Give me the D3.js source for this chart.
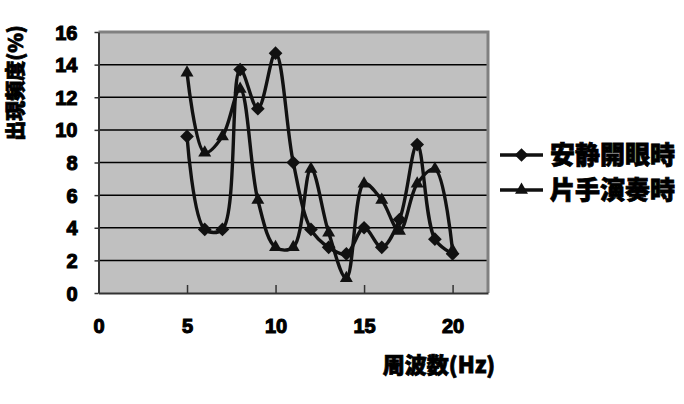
<!DOCTYPE html>
<html><head><meta charset="utf-8">
<script src="https://cdn.jsdelivr.net/npm/d3@7"></script>
<style>
html,body{margin:0;padding:0;background:#fff;}
svg{display:block;}
.tick text{font-family:"Liberation Sans Narrow","Arial Narrow","Liberation Sans",sans-serif;font-weight:bold;font-size:20px;fill:#000;stroke:#000;stroke-width:1.1px;}
.cjk{font-family:"Noto Sans CJK JP",sans-serif;font-weight:900;fill:#000;stroke:#000;stroke-width:0.8px;}
</style></head>
<body>
<svg id="c" width="684" height="404"></svg>
<script>
const freq = [5,6,7,8,9,10,11,12,13,14,15,16,17,18,19,20];
const restEyesOpen = [9.6,3.9,3.9,13.7,11.3,14.7,8.0,3.9,2.8,2.4,4.0,2.8,4.5,9.1,3.3,2.4];
const oneHandPlaying = [13.5,8.6,9.6,12.5,5.7,2.8,2.8,7.6,3.7,0.9,6.7,5.7,3.8,6.7,7.6,2.6];
const seriesNames = ["安静開眼時","片手演奏時"];
const xTicks = [0,5,10,15,20];
const yTicks = [0,2,4,6,8,10,12,14,16];
const xTitle = "周波数(Hz)";
const yTitle = "出現頻度(%)";

const svg = d3.select("#c");
const L = 98.5, R = 488, T = 32, B = 293;
const x = d3.scaleLinear().domain([0,22]).range([L,R]);
const y = d3.scaleLinear().domain([0,16]).range([B,T]);

svg.append("rect").attr("x",L).attr("y",T).attr("width",R-L).attr("height",B-T).attr("fill","#c0c0c0");

svg.append("g").selectAll("line").data(yTicks.filter(d=>d>0 && d<16)).join("line")
  .attr("x1",L).attr("x2",R).attr("y1",d=>y(d)).attr("y2",d=>y(d))
  .attr("stroke","#000").attr("stroke-width",1.5);

svg.append("path").attr("d",`M${L},${T}H${R}V${B}`).attr("fill","none").attr("stroke","#808080").attr("stroke-width",3);

const xAxis = d3.axisBottom(x).tickValues(xTicks).tickSizeInner(-8).tickSizeOuter(0).tickPadding(26);
const gx = svg.append("g").attr("transform",`translate(0,${B})`).call(xAxis);
gx.select(".domain").attr("stroke","#333").attr("stroke-width",2);
gx.selectAll(".tick line").attr("stroke","#333").attr("stroke-width",1.5);

const yAxis = d3.axisLeft(y).tickValues(yTicks).tickSizeInner(4).tickSizeOuter(0).tickPadding(17);
const gy = svg.append("g").attr("transform",`translate(${L},0)`).call(yAxis);
gy.select(".domain").attr("stroke","#333").attr("stroke-width",2);
gy.selectAll(".tick line").attr("stroke","#333").attr("stroke-width",1.5);
gy.selectAll(".tick text").attr("dy","0.35em");

const line = d3.line().x(d=>x(d[0])).y(d=>y(d[1])).curve(d3.curveCatmullRom.alpha(0.5));
const s1 = freq.map((f,i)=>[f,restEyesOpen[i]]);
const s2 = freq.map((f,i)=>[f,oneHandPlaying[i]]);
svg.append("path").attr("d",line(s1)).attr("fill","none").attr("stroke","#111").attr("stroke-width",3.4);
svg.append("path").attr("d",line(s2)).attr("fill","none").attr("stroke","#111").attr("stroke-width",3.4);

const diamond = d3.symbol().type(d3.symbolDiamond2).size(120);
const tri = d3.symbol().type(d3.symbolTriangle2).size(120);
svg.append("g").selectAll("path").data(s1).join("path")
  .attr("d",diamond).attr("transform",d=>`translate(${x(d[0])},${y(d[1])})`).attr("fill","#111");
svg.append("g").selectAll("path").data(s2).join("path")
  .attr("d",tri).attr("transform",d=>`translate(${x(d[0])},${y(d[1])})`).attr("fill","#111");

svg.append("text").attr("class","cjk").attr("transform","translate(23,83) rotate(-90)").attr("text-anchor","middle")
  .attr("font-size",20).text(yTitle);
svg.append("text").attr("class","cjk").attr("x",439).attr("y",373).attr("text-anchor","middle")
  .attr("font-size",22).text(xTitle);

const leg = svg.append("g");
[[diamond,155],[tri,190]].forEach(([sym,yy],i)=>{
  leg.append("line").attr("x1",500).attr("x2",543).attr("y1",yy).attr("y2",yy).attr("stroke","#111").attr("stroke-width",3.4);
  leg.append("path").attr("d",sym).attr("transform",`translate(521.5,${yy})`).attr("fill","#111");
  leg.append("text").attr("class","cjk").attr("x",550).attr("y",yy).attr("dy","0.36em")
    .attr("font-size",25).text(seriesNames[i]);
});
</script>
</body></html>
